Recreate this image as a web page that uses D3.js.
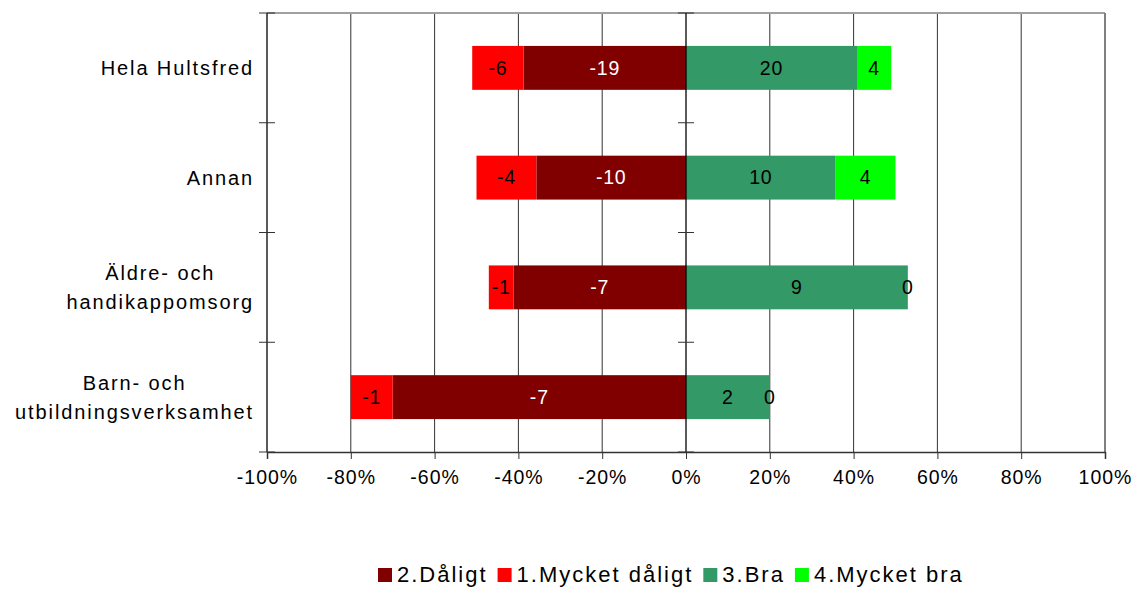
<!DOCTYPE html>
<html>
<head>
<meta charset="utf-8">
<script src="https://cdn.jsdelivr.net/npm/d3@7"></script>
<style>
  body { margin: 0; background: #fff; }
  svg text { font-family: "Liberation Sans", Arial, sans-serif; }
</style>
</head>
<body>
<svg id="chart" width="1134" height="589"></svg>
<script>
        const categories = ['Hela Hultsfred', 'Annan', 'Äldre- och\nhandikappomsorg', 'Barn- och\nutbildningsverksamhet'];
        const mycketDaligt = [6, 4, 1, 1];
        const daligt = [19, 10, 7, 7];
        const bra = [20, 10, 9, 2];
        const mycketBra = [4, 4, 0, 0];
        const xTicks = [-1, -0.8, -0.6, -0.4, -0.2, 0, 0.2, 0.4, 0.6, 0.8, 1];

        const series = [
            { name: '2.Dåligt', values: daligt, side: -1, color: '#800000', text: '#fff' },
            { name: '1.Mycket dåligt', values: mycketDaligt, side: -1, color: '#ff0000', text: '#000' },
            { name: '3.Bra', values: bra, side: 1, color: '#339966', text: '#000' },
            { name: '4.Mycket bra', values: mycketBra, side: 1, color: '#00ff00', text: '#000' }
        ];

        const svg = d3.select('#chart');
        const margin = { top: 13, left: 267, right: 29, bottom: 137 };
        const width = 1134 - margin.left - margin.right;
        const height = 589 - margin.top - margin.bottom;

        const xScale = d3.scaleLinear().domain([-1, 1]).range([0, width]);
        const yScale = d3.scaleBand().domain(categories).range([0, height])
                        .paddingInner(0.6).paddingOuter(0.3);

        const g = svg.append('g').attr('transform', `translate(${margin.left},${margin.top})`);

        // build segments (counts -> share of row total)
        const segs = [];
        categories.forEach((c, i) => {
            const total = series.reduce((s, d) => s + d.values[i], 0);
            let neg = 0, pos = 0;
            series.forEach(s => {
                const v = s.values[i] / total;
                let x0, x1;
                if (s.side < 0) { x1 = -neg; x0 = -neg - v; neg += v; }
                else { x0 = pos; x1 = pos + v; pos += v; }
                segs.push({ cat: c, x0, x1, label: s.side < 0 ? -s.values[i] : s.values[i], s });
            });
        });

        // gridlines
        g.selectAll('.grid').data(xTicks.filter(t => t !== -1 && t !== 0 && t !== 1)).enter()
            .append('line')
            .attr('x1', d => xScale(d)).attr('x2', d => xScale(d))
            .attr('y1', 0).attr('y2', height)
            .attr('stroke', '#333').attr('stroke-width', 1);

        // plot border top/right
        g.append('line').attr('x1', 0).attr('x2', width).attr('y1', 0).attr('y2', 0)
            .attr('stroke', '#a0a0a0').attr('stroke-width', 2);
        g.append('line').attr('x1', width).attr('x2', width).attr('y1', 0).attr('y2', height)
            .attr('stroke', '#808080').attr('stroke-width', 2);

        // bars
        g.selectAll('rect.bar').data(segs).enter()
            .append('rect')
            .attr('class', 'bar')
            .attr('x', d => xScale(d.x0))
            .attr('width', d => xScale(d.x1) - xScale(d.x0))
            .attr('y', d => yScale(d.cat))
            .attr('height', yScale.bandwidth())
            .style('fill', d => d.s.color);

        g.selectAll('text.val').data(segs).enter()
            .append('text')
            .attr('class', 'val')
            .attr('x', d => (xScale(d.x0) + xScale(d.x1)) / 2)
            .attr('y', d => yScale(d.cat) + yScale.bandwidth() / 2)
            .attr('dy', '0.35em')
            .attr('text-anchor', 'middle')
            .style('font-size', '19.5px')
            .style('letter-spacing', '0.8px')
            .style('fill', d => d.s.text)
            .text(d => d.label);

        // zero line and left axis with crossing ticks
        const step = yScale.step();
        const bounds = d3.range(categories.length + 1).map(i => i * step);
        [0, xScale(0)].forEach(x0 => {
            g.append('line').attr('x1', x0).attr('x2', x0).attr('y1', 0).attr('y2', height)
                .attr('stroke', '#000').attr('stroke-width', 1.3);
            g.selectAll(null).data(bounds).enter().append('line')
                .attr('x1', x0 - 8).attr('x2', x0 + 8)
                .attr('y1', d => d).attr('y2', d => d)
                .attr('stroke', '#333').attr('stroke-width', 1);
        });

        // x axis
        const xAxis = d3.axisBottom(xScale).tickValues(xTicks)
                        .tickFormat(d => Math.round(d * 100) + '%')
                        .tickSize(7).tickPadding(11);
        const gX = g.append('g').attr('transform', `translate(0,${height})`).call(xAxis);
        gX.select('.domain').attr('stroke', '#333').attr('stroke-width', 1.5);
        gX.selectAll('.tick line').attr('stroke', '#333');
        gX.selectAll('text').style('font-size', '19.5px').style('letter-spacing', '1px')
            .style('fill', '#000').attr('font-family', null);

        // category labels
        categories.forEach(c => {
            const lines = c.split('\n');
            const t = g.append('text')
                .attr('text-anchor', 'middle')
                .style('font-size', '20px')
                .style('letter-spacing', '1.9px')
                .attr('y', yScale(c) + yScale.bandwidth() / 2);
            lines.forEach((l, j) => {
                t.append('tspan').text(l)
                    .attr('dy', j === 0 ? (0.35 - (lines.length - 1) * 0.72) + 'em' : '1.45em');
            });
            const w = d3.max(t.selectAll('tspan').nodes(), n => n.getComputedTextLength());
            t.selectAll('tspan').attr('x', -13 - w / 2);
        });

        // legend
        const legend = svg.append('g').attr('transform', 'translate(378,574)');
        let lx = 0;
        series.forEach(s => {
            const item = legend.append('g').attr('transform', `translate(${lx},0)`);
            item.append('rect').attr('x', 0).attr('y', -6).attr('width', 14).attr('height', 14)
                .style('fill', s.color);
            const t = item.append('text').attr('x', 19).attr('dy', '0.35em')
                .style('font-size', '22px').style('letter-spacing', '2px').text(s.name);
            lx += 19 + t.node().getComputedTextLength() + 10;
        });
</script>
</body>
</html>
